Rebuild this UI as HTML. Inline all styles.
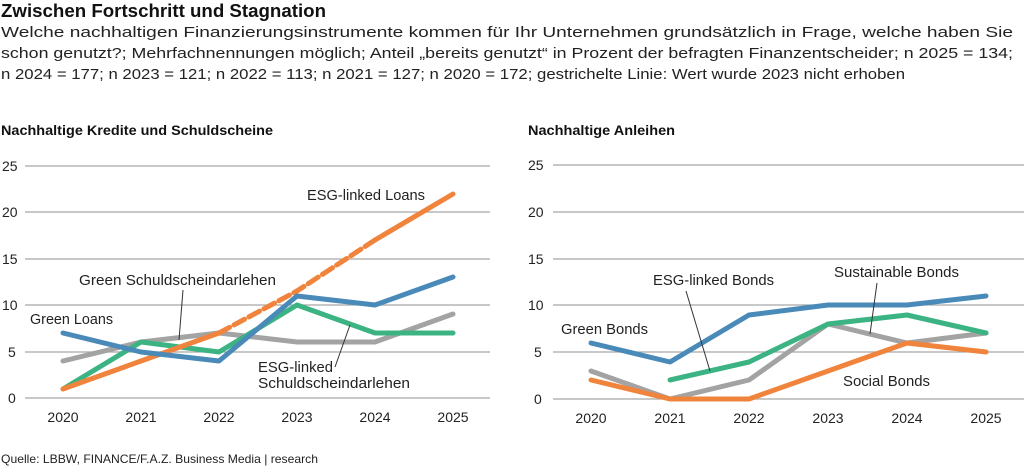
<!DOCTYPE html>
<html><head><meta charset="utf-8"><style>
html,body{margin:0;padding:0;background:#fff;}
svg{display:block;font-family:"Liberation Sans",sans-serif;}
.t{font-size:14px;fill:#222;}
.s{font-size:15px;fill:#222;}
.g{stroke:#a8a8a8;stroke-width:1.2;}
.l{fill:none;stroke-width:5;stroke-linejoin:round;stroke-linecap:round;}
</style></head><body>
<svg width="1024" height="470" viewBox="0 0 1024 470">
<text x="1" y="17" font-size="18" font-weight="bold" fill="#111" textLength="325" lengthAdjust="spacingAndGlyphs">Zwischen Fortschritt und Stagnation</text>
<text x="1" y="37" font-size="15" fill="#222" textLength="1012" lengthAdjust="spacingAndGlyphs">Welche nachhaltigen Finanzierungsinstrumente kommen für Ihr Unternehmen grundsätzlich in Frage, welche haben Sie</text>
<text x="1" y="58" font-size="15" fill="#222" textLength="1012" lengthAdjust="spacingAndGlyphs">schon genutzt?; Mehrfachnennungen möglich; Anteil „bereits genutzt“ in Prozent der befragten Finanzentscheider; n 2025 = 134;</text>
<text x="1" y="79" font-size="15" fill="#222" textLength="904" lengthAdjust="spacingAndGlyphs">n 2024 = 177; n 2023 = 121; n 2022 = 113; n 2021 = 127; n 2020 = 172; gestrichelte Linie: Wert wurde 2023 nicht erhoben</text>
<text x="1" y="135" font-size="14" font-weight="bold" fill="#111" textLength="272" lengthAdjust="spacingAndGlyphs">Nachhaltige Kredite und Schuldscheine</text>
<text x="528" y="135" font-size="14" font-weight="bold" fill="#111" textLength="147" lengthAdjust="spacingAndGlyphs">Nachhaltige Anleihen</text>

<g class="g">
<line x1="25" x2="490" y1="166" y2="166"/><line x1="25" x2="490" y1="212" y2="212"/><line x1="25" x2="490" y1="259" y2="259"/><line x1="25" x2="490" y1="305" y2="305"/><line x1="25" x2="490" y1="352" y2="352"/><line x1="25" x2="490" y1="398" y2="398"/>
<line x1="553" x2="1024" y1="165" y2="165"/><line x1="553" x2="1024" y1="212" y2="212"/><line x1="553" x2="1024" y1="259" y2="259"/><line x1="553" x2="1024" y1="305" y2="305"/><line x1="553" x2="1024" y1="352" y2="352"/><line x1="553" x2="1024" y1="399" y2="399"/>
</g>
<g class="t">
<text x="2" y="171">25</text><text x="2" y="217">20</text><text x="2" y="264">15</text><text x="2" y="310">10</text><text x="8" y="357">5</text><text x="8" y="403">0</text>
<text x="528" y="170">25</text><text x="528" y="217">20</text><text x="528" y="264">15</text><text x="528" y="310">10</text><text x="534" y="357">5</text><text x="534" y="404">0</text>
</g>
<g class="t" text-anchor="middle">
<text x="63" y="422">2020</text><text x="141" y="422">2021</text><text x="219" y="422">2022</text><text x="297" y="422">2023</text><text x="375" y="422">2024</text><text x="453" y="422">2025</text>
<text x="591" y="423">2020</text><text x="670" y="423">2021</text><text x="749" y="423">2022</text><text x="828" y="423">2023</text><text x="907" y="423">2024</text><text x="986" y="423">2025</text>
</g>

<polyline class="l" stroke="#a3a3a3" points="63,361 141,342 219,333 297,342 375,342 453,314"/>
<polyline class="l" stroke="#3cb383" points="63,389 141,342 219,352 297,305 375,333 453,333"/>
<polyline class="l" stroke="#f0843c" points="63,389 141,361 219,333"/>
<polyline class="l" stroke="#f0843c" stroke-linecap="butt" stroke-dasharray="12,5" points="219,333 297,291 375,240"/>
<polyline class="l" stroke="#f0843c" points="375,240 453,194"/>
<polyline class="l" stroke="#4a8ab9" points="63,333 141,352 219,361 297,296 375,305 453,277"/>
<line x1="183" y1="290" x2="179" y2="340" stroke="#333" stroke-width="1"/>
<line x1="350" y1="325" x2="335" y2="367" stroke="#333" stroke-width="1"/>
<g class="s">
<text x="307" y="200" textLength="118" lengthAdjust="spacingAndGlyphs">ESG-linked Loans</text>
<text x="79" y="285" textLength="197" lengthAdjust="spacingAndGlyphs">Green Schuldscheindarlehen</text>
<text x="30" y="324" textLength="83" lengthAdjust="spacingAndGlyphs">Green Loans</text>
<text x="258" y="372" textLength="75" lengthAdjust="spacingAndGlyphs">ESG-linked</text>
<text x="258" y="388" textLength="152" lengthAdjust="spacingAndGlyphs">Schuldscheindarlehen</text>
</g>

<polyline class="l" stroke="#a3a3a3" points="591,371 670,399 749,380 828,324 907,343 986,333"/>
<polyline class="l" stroke="#f0843c" points="591,380 670,399 749,399 828,371 907,343 986,352"/>
<polyline class="l" stroke="#3cb383" points="670,380 749,362 828,324 907,315 986,333"/>
<polyline class="l" stroke="#4a8ab9" points="591,343 670,362 749,315 828,305 907,305 986,296"/>
<line x1="686" y1="291" x2="710" y2="371" stroke="#333" stroke-width="1"/>
<line x1="877" y1="283" x2="870" y2="334" stroke="#333" stroke-width="1"/>
<g class="s">
<text x="653" y="285" textLength="121" lengthAdjust="spacingAndGlyphs">ESG-linked Bonds</text>
<text x="834" y="277" textLength="125" lengthAdjust="spacingAndGlyphs">Sustainable Bonds</text>
<text x="561" y="334" textLength="87" lengthAdjust="spacingAndGlyphs">Green Bonds</text>
<text x="843" y="386" textLength="87" lengthAdjust="spacingAndGlyphs">Social Bonds</text>
</g>

<text x="1" y="463" font-size="12" fill="#222" textLength="317" lengthAdjust="spacingAndGlyphs">Quelle: LBBW, FINANCE/F.A.Z. Business Media | research</text>
</svg>
</body></html>
